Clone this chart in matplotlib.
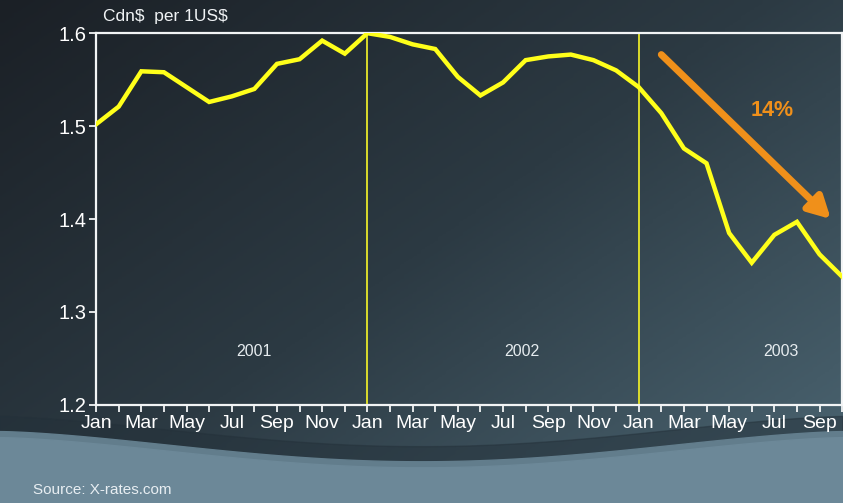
import numpy as np
import matplotlib.pyplot as plt
from matplotlib.colors import LinearSegmentedColormap

plt.rcParams['font.family'] = ['Liberation Sans', 'DejaVu Sans']

# monthly Cdn$ per US$ rate, Jan 2001 .. Oct 2003
rate = [1.502, 1.521, 1.559, 1.558, 1.542, 1.526, 1.532, 1.540, 1.567, 1.572,
        1.592, 1.578, 1.600, 1.596, 1.588, 1.583, 1.553, 1.533, 1.547, 1.571,
        1.575, 1.577, 1.571, 1.560, 1.542, 1.514, 1.476, 1.460, 1.385, 1.353,
        1.383, 1.397, 1.362, 1.338]
months = np.arange(len(rate))
month_names = ["Jan", "Feb", "Mar", "Apr", "May", "Jun",
               "Jul", "Aug", "Sep", "Oct", "Nov", "Dec"]
tick_labels = [month_names[m % 12] if m % 2 == 0 else "" for m in months]
years = ["2001", "2002", "2003"]
year_x = [7.0, 18.85, 30.3]
year_breaks = [12, 24]

fig = plt.figure(figsize=(8.43, 5.03), dpi=100)

# background gradient + bottom wave band
bg = fig.add_axes([0, 0, 1, 1])
bg.set_xlim(0, 1)
bg.set_ylim(0, 1)
bg.axis("off")
gx, gy = np.meshgrid(np.linspace(0, 1, 200), np.linspace(0, 1, 200))
grad = 0.55 * gx + 0.45 * (1 - gy)
cmap = LinearSegmentedColormap.from_list("bg", ["#1b2026", "#2c3a43", "#4c6673"])
bg.imshow(grad, cmap=cmap, extent=[0, 1, 1, 0], aspect="auto", origin="upper")
bg.set_ylim(0, 1)
wx = np.linspace(0, 1, 200)
wy = 0.142 - 0.06 * np.sin(np.pi * wx) ** 1.5
bg.fill_between(wx, 0, wy + 0.03, color="#24313a", alpha=0.5, zorder=2)
bg.fill_between(wx, 0, wy, color="#627d8c", zorder=2)
bg.fill_between(wx, 0, wy - 0.012, color="#6c8898", zorder=2)
bg.text(0.039, 0.026, "Source: X-rates.com", color="#e8eef2", fontsize=11,
        ha="left", va="center", zorder=3)

ax = fig.add_axes([0.114, 0.195, 0.885, 0.739])
ax.patch.set_alpha(0)
ax.plot(months, rate, color="#ffff1a", lw=3.2, solid_joinstyle="miter", zorder=3)
for b in year_breaks:
    ax.axvline(b, color="#e8e82a", lw=1.3, zorder=2)
for yx, yl in zip(year_x, years):
    ax.text(yx, 1.257, yl, color="#e6ecef", fontsize=11.5, ha="center", va="center")

ax.annotate("", xy=(32.5, 1.400), xytext=(25.0, 1.577),
            arrowprops=dict(arrowstyle="-|>,head_width=0.7,head_length=1.3",
                            color="#f0901a", lw=5, shrinkA=0, shrinkB=0))
ax.text(29.9, 1.517, "14%", color="#f0901a", fontsize=15.5, fontweight="bold",
        ha="center", va="center")

ax.set_xlim(0, 33)
ax.set_ylim(1.2, 1.6)
ax.set_yticks([1.2, 1.3, 1.4, 1.5, 1.6])
ax.set_yticklabels(["1.2", "1.3", "1.4", "1.5", "1.6"])
ax.set_xticks(months)
ax.set_xticklabels(tick_labels)
for s in ax.spines.values():
    s.set_color("#f2f4f5")
    s.set_linewidth(1.6)
ax.tick_params(colors="#f2f4f5", length=5, width=1.3, pad=2)
ax.tick_params(axis="x", labelcolor="white", labelsize=14)
ax.tick_params(axis="y", labelcolor="white", labelsize=14.5)

fig.text(0.122, 0.968, "Cdn\\$  per 1US\\$", color="#f0f3f5", fontsize=12.5,
         ha="left", va="center")

fig.savefig("out.png", dpi=100)
plt.close(fig)
